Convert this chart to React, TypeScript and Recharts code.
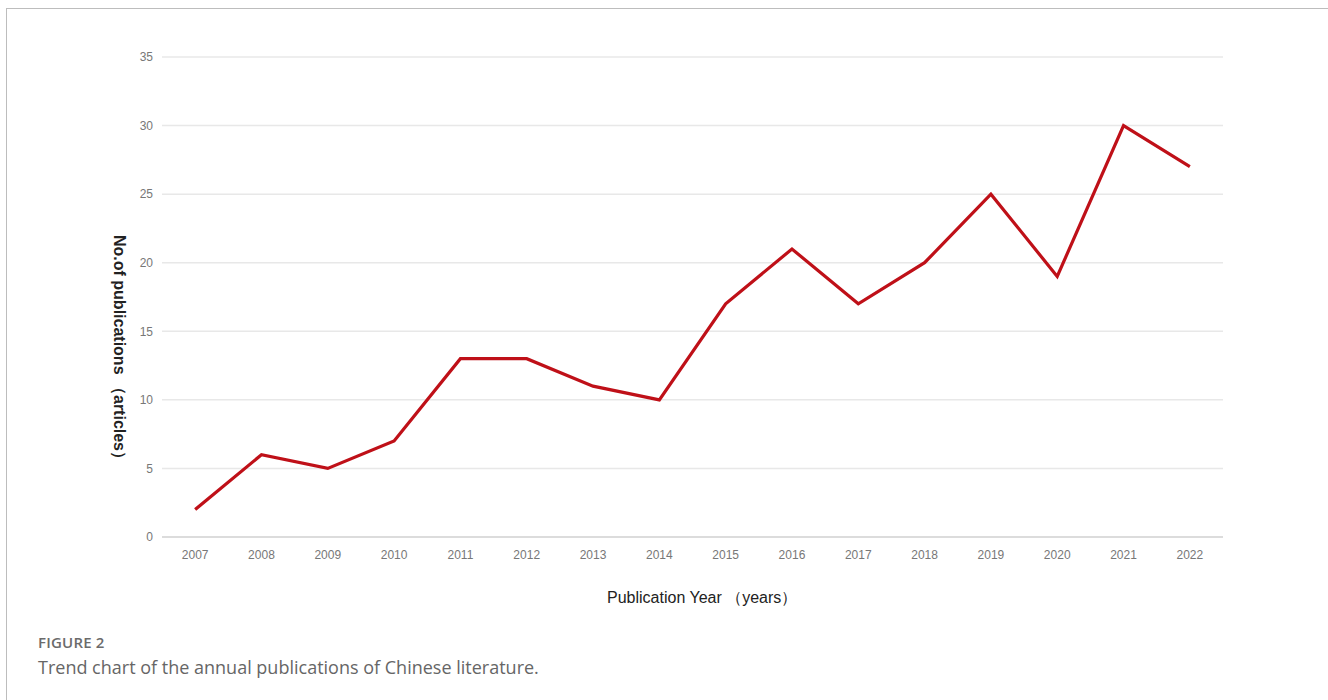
import React from 'react';
import { LineChart, Line, XAxis, YAxis, CartesianGrid } from 'recharts';

// Annual publication counts
const years = [2007, 2008, 2009, 2010, 2011, 2012, 2013, 2014, 2015, 2016, 2017, 2018, 2019, 2020, 2021, 2022];
const publications = [2, 6, 5, 7, 13, 13, 11, 10, 17, 21, 17, 20, 25, 19, 30, 27];
const yTicks = [0, 5, 10, 15, 20, 25, 30, 35];

const chartData = years.map((year, i) => ({ year, count: publications[i] }));
// tick marks sit on the boundaries between the year bands
const bandEdges = [...years.map((y) => y - 0.5), years[years.length - 1] + 0.5];
const xDomain: [number, number] = [bandEdges[0], bandEdges[bandEdges.length - 1]];

const axisFont = '"Liberation Sans", Arial, sans-serif';
const captionFont = '"Open Sans", "Noto Sans", sans-serif';

export default function App() {
  return (
    <div style={{ position: 'absolute', left: 0, top: 0, width: 1328, height: 700, overflow: 'hidden', background: '#fff' }}>
      {/* frame of the figure box */}
      <div style={{ position: 'absolute', left: 6, top: 8, width: 1340, height: 720, border: '1px solid #bdbdbd', boxSizing: 'border-box' }} />

      <div style={{ position: 'absolute', left: 0, top: 0 }}>
        <LineChart width={1328} height={700} data={chartData} margin={{ top: 57, right: 105, bottom: 0, left: 0 }}>
          <CartesianGrid vertical={false} stroke="#e8e8e8" strokeWidth={1.5} />
          <XAxis
            xAxisId="edges"
            type="number"
            dataKey="year"
            domain={xDomain}
            ticks={bandEdges}
            tick={false}
            tickSize={4}
            tickLine={{ stroke: '#d6d6d6' }}
            axisLine={{ stroke: '#d6d6d6', strokeWidth: 1.5 }}
            height={5}
          />
          <XAxis
            xAxisId="years"
            type="number"
            dataKey="year"
            domain={xDomain}
            ticks={years}
            interval={0}
            axisLine={false}
            tickLine={false}
            tickSize={0}
            tickMargin={8}
            tick={{ fill: '#777', fontSize: 12, fontFamily: axisFont }}
            height={158}
          />
          <YAxis
            type="number"
            domain={[0, 35]}
            ticks={yTicks}
            interval={0}
            axisLine={false}
            tickLine={false}
            tickSize={0}
            tickMargin={9}
            tick={{ fill: '#777', fontSize: 12, fontFamily: axisFont }}
            width={162}
          />
          <Line
            xAxisId="years"
            type="linear"
            dataKey="count"
            stroke="#bf1018"
            strokeWidth={3.2}
            dot={false}
            isAnimationActive={false}
          />
        </LineChart>
      </div>

      {/* axis titles */}
      <div
        style={{
          position: 'absolute', left: 118, top: 351, transform: 'translate(-50%, -50%) rotate(90deg)',
          whiteSpace: 'nowrap', fontFamily: axisFont, fontSize: 16, fontWeight: 700, color: '#222',
        }}
      >
        No.of publications （articles）
      </div>
      <div
        style={{
          position: 'absolute', left: 607, top: 588, whiteSpace: 'nowrap',
          fontFamily: axisFont, fontSize: 16, color: '#222', lineHeight: 'normal',
        }}
      >
        Publication Year （years）
      </div>

      {/* caption */}
      <div style={{ position: 'absolute', left: 38, top: 632, fontFamily: captionFont, fontSize: 15, fontWeight: 600, color: '#6b6b6b', letterSpacing: 0.2 }}>
        FIGURE 2
      </div>
      <div style={{ position: 'absolute', left: 38, top: 655, fontFamily: captionFont, fontSize: 18, color: '#666', whiteSpace: 'nowrap' }}>
        Trend chart of the annual publications of Chinese literature.
      </div>
    </div>
  );
}
